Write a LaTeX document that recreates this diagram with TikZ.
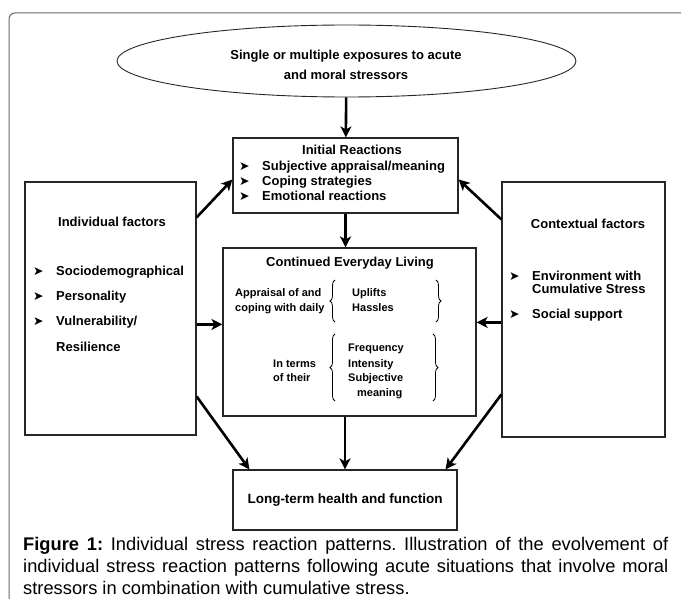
\documentclass[tikz,border=0pt]{standalone}
\usepackage{fontspec}
\setmainfont{Liberation Sans}
\newfontfamily\bulletfont{DejaVu Sans}
\usetikzlibrary{shapes.geometric,arrows.meta,calc,decorations.pathreplacing}

\newcommand{\bul}{\makebox[23pt][l]{\bulletfont\fontsize{12.5}{12}\selectfont ➤}}

\begin{document}
\frenchspacing
\begin{tikzpicture}[x=1pt,y=-1pt,
    box/.style={draw=black!85, line width=1.2pt, inner sep=0pt},
    flow/.style={-{Stealth[length=11pt,width=11pt,inset=3pt]}, line width=2.6pt},
    txt/.style={inner sep=0pt, font=\bfseries\fontsize{13}{15}\selectfont},
    small/.style={inner sep=0pt, font=\bfseries\fontsize{11}{15}\selectfont},
    brc/.style={decorate, decoration={brace,amplitude=5pt}, line width=0.8pt}]
\useasboundingbox (0,0) rectangle (681,599);

% frame
\draw[black!60, line width=1pt, rounded corners=6pt] (9,640) -- (9,13) -- (700,13);

\node[box, ellipse, minimum width=459pt, minimum height=72pt, line width=0.9pt] (expo) at (346.5,61) {};
\node[txt, align=center, font=\bfseries\fontsize{13}{20}\selectfont] (expo_txt) at (346,65) {Single or multiple exposures to acute\\and moral stressors};

% initial reactions
\node[box, minimum width=225pt, minimum height=75pt] (initial) at (345.5,175.5) {};
\node[txt, anchor=base] (init_title) at (352,155) {Initial Reactions};
\node[txt, anchor=base west] (init_b1) at (239,171) {\bul Subjective appraisal/meaning};
\node[txt, anchor=base west] (init_b2) at (239,186) {\bul Coping strategies};
\node[txt, anchor=base west] (init_b3) at (239,201) {\bul Emotional reactions};

% continued everyday living
\node[box, minimum width=253pt, minimum height=168pt] (continued) at (349.5,332) {};
\node[txt, anchor=base] (cont_title) at (350,266) {Continued Everyday Living};
\node[small, anchor=base west] (appr1) at (235,297) {Appraisal of and};
\node[small, anchor=base west] (appr2) at (235,312) {coping with daily};
\node[small, anchor=base west] (upl) at (352,297) {Uplifts};
\node[small, anchor=base west] (has) at (352,312) {Hassles};
\draw[brc] (335,322) -- (335,280);
\draw[brc] (436,280) -- (436,322);

\node[small, anchor=base west] (term1) at (273,367) {In terms};
\node[small, anchor=base west] (term2) at (273,381) {of their};
\node[small, anchor=base west] (freq) at (348,352) {Frequency};
\node[small, anchor=base west] (inten) at (348,367) {Intensity};
\node[small, anchor=base west] (subj) at (348,381) {Subjective};
\node[small, anchor=base west] (mean) at (357,396) {meaning};
\draw[brc] (335,401) -- (335,334);
\draw[brc] (433,334) -- (433,401);

% individual factors
\node[box, minimum width=171pt, minimum height=253pt] (indiv) at (110.5,308.5) {};
\node[txt, anchor=base] (indiv_title) at (112,227) {Individual factors};
\node[txt, anchor=base west] (indiv_b1) at (33,276) {\bul Sociodemographical};
\node[txt, anchor=base west] (indiv_b2) at (33,301) {\bul Personality};
\node[txt, anchor=base west] (indiv_b3) at (33,326) {\bul Vulnerability/};
\node[txt, anchor=base west] (indiv_b3b) at (56,351) {Resilience};

% contextual factors
\node[box, minimum width=163pt, minimum height=255pt] (context) at (583.5,309.5) {};
\node[txt, anchor=base] (context_title) at (588,229) {Contextual factors};
\node[txt, anchor=base west] (context_b1) at (509,280) {\bul Environment with};
\node[txt, anchor=base west] (context_b1b) at (532,294) {Cumulative Stress};
\node[txt, anchor=base west] (context_b2) at (509,319) {\bul Social support};

\node[box, minimum width=224pt, minimum height=60pt, font=\bfseries\fontsize{13.5}{15}\selectfont] (longterm) at (345,500) {Long-term health and function};

\coordinate (indiv_up) at ($(indiv.north east)+(0,36)$);
\coordinate (indiv_mid) at ($(indiv.north east)+(0,143)$);
\coordinate (indiv_low) at ($(indiv.north east)+(0,215)$);
\coordinate (context_up) at ($(context.north west)+(0,38)$);
\coordinate (context_mid) at ($(context.north west)+(0,141)$);
\coordinate (context_low) at ($(context.north west)+(0,213)$);

\draw[flow] (expo) -- (initial);
\draw[flow] (initial.south) -- (initial.south |- continued.north);
\draw[flow] (longterm.north |- continued.south) -- (longterm.north);
\draw[flow] (indiv_up) -- ($(initial.west)+(0,4)$);
\draw[flow] (context_up) -- ($(initial.east)+(0,4)$);
\draw[flow] (indiv_mid) -- (indiv_mid -| continued.west);
\draw[flow] (context_mid) -- (context_mid -| continued.east);
\draw[flow] (indiv_low) -- ($(longterm.north west)+(17,0)$);
\draw[flow] (context_low) -- ($(longterm.north east)+(-12,0)$);

\node[anchor=north west, inner sep=0pt, text width=645pt, align=justify, font=\fontsize{18.3}{22}\selectfont] (caption) at (23,537) {\textbf{Figure 1:} Individual stress reaction patterns. Illustration of the evolvement of\linebreak individual stress reaction patterns following acute situations that involve moral\linebreak stressors in combination with cumulative stress.};
\end{tikzpicture}
\end{document}
